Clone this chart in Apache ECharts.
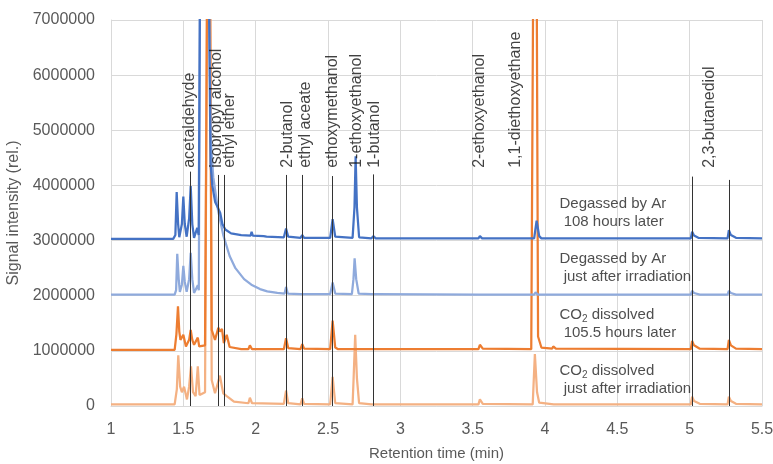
<!DOCTYPE html>
<html>
<head>
<meta charset="utf-8">
<script src="https://cdn.jsdelivr.net/npm/echarts@6/dist/echarts.min.js"></script>
<style>
  html, body { margin: 0; padding: 0; background: #fff; }
  #chart { width: 773px; height: 464px; }
</style>
</head>
<body>
<div id="chart"></div>
<script>
// chromatograms, [time (min), intensity], offsets as plotted
const darkBlue108h = [
  [1.0, 3.03e6], [1.43, 3.03e6], [1.445, 3.1e6], [1.454, 3.88e6], [1.464, 3.3e6], [1.472, 3.06e6],
  [1.49, 3.3e6], [1.50, 3.80e6], [1.51, 3.3e6], [1.523, 3.07e6], [1.54, 3.4e6], [1.551, 3.99e6],
  [1.562, 3.3e6], [1.574, 3.05e6], [1.596, 3.23e6], [1.606, 3.1e6], [1.615, 7.5e6], [1.677, 7.5e6],
  [1.688, 4.4e6], [1.70, 4.0e6], [1.72, 3.7e6], [1.742, 3.58e6], [1.755, 3.5e6], [1.77, 3.3e6],
  [1.79, 3.2e6], [1.83, 3.13e6], [1.9, 3.1e6], [1.965, 3.09e6], [1.972, 3.16e6], [1.98, 3.09e6],
  [2.055, 3.08e6], [2.064, 3.11e6], [2.075, 3.07e6], [2.195, 3.06e6], [2.21, 3.22e6], [2.225, 3.07e6],
  [2.31, 3.05e6], [2.322, 3.10e6], [2.335, 3.05e6], [2.515, 3.05e6], [2.532, 3.39e6], [2.55, 3.07e6],
  [2.67, 3.05e6], [2.683, 3.6e6], [2.691, 4.53e6], [2.70, 3.6e6], [2.715, 3.06e6], [2.80, 3.04e6],
  [2.813, 3.08e6], [2.83, 3.04e6], [3.54, 3.04e6], [3.55, 3.08e6], [3.565, 3.04e6], [3.925, 3.04e6],
  [3.942, 3.36e6], [3.96, 3.08e6], [3.975, 3.04e6], [4.06, 3.04e6], [4.07, 3.06e6], [4.085, 3.04e6],
  [5.008, 3.04e6], [5.017, 3.16e6], [5.03, 3.09e6], [5.06, 3.05e6], [5.262, 3.04e6], [5.271, 3.19e6],
  [5.285, 3.10e6], [5.32, 3.05e6], [5.5, 3.04e6]
];
const lightBlueJust = [
  [1.0, 2.02e6], [1.44, 2.02e6], [1.45, 2.1e6], [1.458, 2.76e6], [1.468, 2.3e6], [1.476, 2.07e6],
  [1.49, 2.2e6], [1.50, 2.54e6], [1.51, 2.25e6], [1.523, 2.07e6], [1.54, 2.3e6], [1.551, 2.78e6],
  [1.562, 2.3e6], [1.574, 2.05e6], [1.60, 2.19e6], [1.607, 2.1e6], [1.615, 7.5e6], [1.677, 7.5e6],
  [1.69, 4.8e6], [1.707, 4.15e6], [1.74, 3.55e6], [1.776, 3.1e6], [1.82, 2.72e6], [1.86, 2.5e6],
  [1.92, 2.3e6], [1.97, 2.2e6], [2.03, 2.12e6], [2.08, 2.08e6], [2.15, 2.05e6], [2.2, 2.04e6],
  [2.21, 2.16e6], [2.222, 2.04e6], [2.31, 2.03e6], [2.322, 2.06e6], [2.335, 2.03e6], [2.515, 2.03e6],
  [2.532, 2.24e6], [2.55, 2.04e6], [2.665, 2.03e6], [2.676, 2.3e6], [2.684, 2.68e6], [2.695, 2.3e6],
  [2.712, 2.04e6], [2.80, 2.03e6], [2.813, 2.05e6], [2.83, 2.03e6], [3.54, 2.02e6], [3.55, 2.04e6],
  [3.565, 2.02e6], [3.925, 2.02e6], [3.935, 2.06e6], [3.95, 2.02e6], [4.06, 2.02e6], [4.07, 2.04e6],
  [4.085, 2.02e6], [5.008, 2.02e6], [5.017, 2.09e6], [5.03, 2.05e6], [5.07, 2.02e6], [5.262, 2.02e6],
  [5.271, 2.09e6], [5.285, 2.05e6], [5.32, 2.02e6], [5.5, 2.02e6]
];
const orange105h = [
  [1.0, 1.02e6], [1.44, 1.02e6], [1.452, 1.3e6], [1.463, 1.81e6], [1.472, 1.35e6], [1.48, 1.2e6],
  [1.50, 1.29e6], [1.518, 1.08e6], [1.54, 1.2e6], [1.551, 1.38e6], [1.562, 1.2e6], [1.574, 1.11e6],
  [1.60, 1.24e6], [1.61, 1.08e6], [1.65, 1.1e6], [1.664, 7.5e6], [1.685, 7.5e6], [1.696, 1.38e6],
  [1.719, 1.2e6], [1.742, 1.42e6], [1.753, 1.35e6], [1.767, 1.40e6], [1.78, 1.14e6], [1.80, 1.29e6],
  [1.82, 1.07e6], [1.9, 1.03e6], [1.95, 1.03e6], [1.96, 1.1e6], [1.975, 1.03e6], [2.195, 1.03e6],
  [2.21, 1.23e6], [2.225, 1.05e6], [2.31, 1.03e6], [2.322, 1.12e6], [2.335, 1.04e6], [2.515, 1.03e6],
  [2.532, 1.55e6], [2.55, 1.06e6], [2.57, 1.03e6], [2.8, 1.03e6], [2.813, 1.06e6], [2.83, 1.03e6],
  [3.54, 1.03e6], [3.55, 1.11e6], [3.57, 1.04e6], [3.905, 1.03e6], [3.918, 7.5e6], [3.943, 7.5e6],
  [3.952, 1.26e6], [3.975, 1.06e6], [4.05, 1.04e6], [4.057, 1.08e6], [4.075, 1.04e6], [5.008, 1.03e6],
  [5.017, 1.18e6], [5.03, 1.10e6], [5.07, 1.04e6], [5.262, 1.03e6], [5.271, 1.20e6], [5.285, 1.10e6],
  [5.32, 1.04e6], [5.5, 1.03e6]
];
const lightOrangeJust = [
  [1.0, 0.03e6], [1.44, 0.03e6], [1.455, 0.3e6], [1.465, 0.92e6], [1.478, 0.35e6], [1.49, 0.25e6],
  [1.505, 0.35e6], [1.525, 0.12e6], [1.54, 0.35e6], [1.553, 0.72e6], [1.567, 0.25e6], [1.585, 0.18e6],
  [1.60, 0.72e6], [1.612, 0.2e6], [1.65, 0.25e6], [1.664, 7.5e6], [1.685, 7.5e6], [1.696, 0.47e6],
  [1.719, 0.23e6], [1.742, 0.45e6], [1.753, 0.55e6], [1.767, 0.35e6], [1.776, 0.23e6], [1.80, 0.18e6],
  [1.85, 0.08e6], [1.95, 0.05e6], [1.96, 0.15e6], [1.975, 0.05e6], [2.195, 0.04e6], [2.21, 0.28e6],
  [2.225, 0.05e6], [2.31, 0.03e6], [2.322, 0.14e6], [2.335, 0.04e6], [2.515, 0.03e6], [2.532, 0.53e6],
  [2.55, 0.05e6], [2.67, 0.03e6], [2.677, 0.5e6], [2.688, 1.29e6], [2.70, 0.5e6], [2.715, 0.05e6],
  [2.80, 0.03e6], [2.813, 0.05e6], [2.83, 0.03e6], [3.54, 0.03e6], [3.55, 0.12e6], [3.57, 0.04e6],
  [3.915, 0.03e6], [3.93, 0.94e6], [3.945, 0.25e6], [3.96, 0.06e6], [4.06, 0.03e6], [4.07, 0.06e6],
  [4.085, 0.03e6], [5.008, 0.03e6], [5.017, 0.17e6], [5.03, 0.09e6], [5.07, 0.04e6], [5.262, 0.03e6],
  [5.271, 0.17e6], [5.285, 0.09e6], [5.32, 0.04e6], [5.5, 0.03e6]
];

// black marker lines
const markerTimes = [1.551, 1.742, 1.781, 2.209, 2.32, 2.53, 2.813, 5.017, 5.271];
const markerTops = [4.25e6, 4.19e6, 4.19e6, 4.19e6, 4.19e6, 4.17e6, 4.2e6, 4.16e6, 4.1e6];

// compound labels
const compoundNames = ["acetaldehyde", "isopropyl alcohol", "ethyl ether", "2-butanol", "ethyl aceate",
  "ethoxymethanol", "1-ethoxyethanol", "1-butanol", "2-ethoxyethanol", "1,1-diethoxyethane", "2,3-butanediol"];
const compoundTimes = [1.54, 1.73, 1.82, 2.22, 2.345, 2.53, 2.70, 2.825, 3.55, 3.80, 5.14];
const compoundBase = 4.32e6;

// right side notes
const noteTexts = [
  "Degassed by Ar\n 108 hours later",
  "Degassed by Ar\n just after irradiation",
  "CO{sub|2} dissolved\n 105.5 hours later",
  "CO{sub|2} dissolved\n just after irradiation"
];
const noteTime = 4.10;
const noteLevels = [3.5e6, 2.5e6, 1.49e6, 0.47e6];

const chart = echarts.init(document.getElementById("chart"));
const FONT = "Liberation Sans";

const lineSeries = (name, data, color) => ({
  name: name,
  type: "line",
  data: data,
  symbol: "none",
  clip: true,
  lineStyle: { color: color, width: 2.25 },
  z: 3
});

const option = {
  animation: false,
  textStyle: { fontFamily: FONT },
  grid: { left: 111, right: 11, top: 20, bottom: 58, outerBoundsMode: "none" },
  xAxis: {
    type: "value",
    min: 1,
    max: 5.5,
    interval: 0.5,
    name: "Retention time (min)",
    nameLocation: "middle",
    nameGap: 40,
    nameTextStyle: { color: "#595959", fontSize: 15 },
    axisLine: { show: true, lineStyle: { color: "#d9d9d9" } },
    axisTick: { show: false },
    axisLabel: { color: "#595959", fontSize: 16, margin: 16 },
    splitLine: { show: true, lineStyle: { color: "#d9d9d9" } }
  },
  yAxis: {
    type: "value",
    min: 0,
    max: 7000000,
    interval: 1000000,
    name: "Signal intensity (rel.)",
    nameLocation: "middle",
    nameGap: 84,
    nameTextStyle: { color: "#595959", fontSize: 16 },
    axisLine: { show: true, lineStyle: { color: "#d9d9d9" } },
    axisTick: { show: false },
    axisLabel: { color: "#595959", fontSize: 16, margin: 16, formatter: (v) => String(v) },
    splitLine: { show: true, lineStyle: { color: "#d9d9d9" } }
  },
  series: [
    lineSeries("CO2 just after", lightOrangeJust, "#F4B183"),
    lineSeries("CO2 105.5 h", orange105h, "#ED7D31"),
    lineSeries("Ar just after", lightBlueJust, "#8FAADC"),
    lineSeries("Ar 108 h", darkBlue108h, "#4472C4"),
    {
      name: "markers",
      type: "line",
      data: [],
      symbol: "none",
      markLine: {
        silent: true,
        symbol: "none",
        label: { show: false },
        lineStyle: { color: "#333", width: 1, type: "solid" },
        data: markerTimes.map((t, i) => [{ coord: [t, 0] }, { coord: [t, markerTops[i]] }])
      },
      z: 4
    },
    {
      name: "compounds",
      type: "scatter",
      symbolSize: 0,
      data: compoundTimes.map((t, i) => ({ value: [t, compoundBase], name: compoundNames[i] })),
      label: {
        show: true,
        position: "inside",
        rotate: 90,
        align: "left",
        verticalAlign: "middle",
        formatter: (p) => p.name,
        color: "#111",
        fontSize: 16,
        fontFamily: FONT
      },
      z: 5
    },
    {
      name: "notes",
      type: "scatter",
      symbolSize: 0,
      data: noteLevels.map((v, i) => ({ value: [noteTime, v], name: noteTexts[i] })),
      label: {
        show: true,
        position: "inside",
        align: "left",
        verticalAlign: "middle",
        formatter: (p) => p.name,
        color: "#222",
        fontSize: 15,
        lineHeight: 18,
        fontFamily: FONT,
        rich: {
          sub: { fontSize: 10, verticalAlign: "bottom", padding: [6, 0, 0, 0], color: "#222", fontFamily: FONT }
        }
      },
      z: 5
    }
  ]
};

chart.setOption(option);
window.addEventListener("resize", () => chart.resize());
</script>
</body>
</html>
